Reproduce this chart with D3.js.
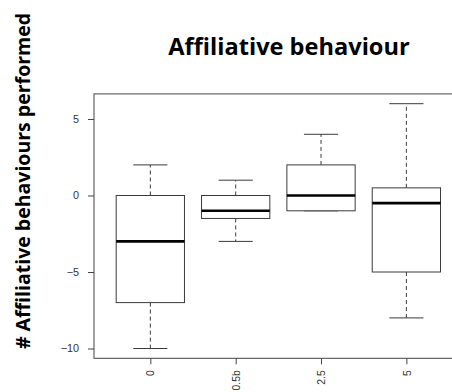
<!DOCTYPE html>
<html>
<head>
<meta charset="utf-8">
<script src="https://cdn.jsdelivr.net/npm/d3@7"></script>
<style>
  html, body { margin: 0; padding: 0; background: #fff; overflow: hidden; }
  svg { display: block; }
</style>
</head>
<body>
<script>
const categories = ["0", "0.5b", "2.5", "5"];
const whiskerLow = [-10, -3, -1, -8];
const q1 = [-7, -1.5, -1, -5];
const median = [-3, -1, 0, -0.5];
const q3 = [0, 0, 2, 0.5];
const whiskerHigh = [2, 1, 4, 6];
const yTicks = [-10, -5, 0, 5];
const titleText = "Affiliative behaviour";
const yTitleText = "# Affiliative behaviours performed";

const W = 452, H = 392;
const svg = d3.select("body").append("svg").attr("width", W).attr("height", H);

const n = categories.length;
const x = d3.scaleLinear().domain([0.5 - 0.04 * n, n + 0.5 + 0.04 * n]).range([94, 462.7]);
const yMin = d3.min(whiskerLow), yMax = d3.max(whiskerHigh);
const pad = (yMax - yMin) * 0.04;
const y = d3.scaleLinear().domain([yMin - pad, yMax + pad]).range([358.3, 93.9]);

const boxW = 0.8, capW = 0.4;
const data = categories.map((c, i) => ({
  c, i: i + 1, lo: whiskerLow[i], q1: q1[i], med: median[i], q3: q3[i], hi: whiskerHigh[i]
}));

const g = svg.append("g");
const strokeCol = "#3a3a3a";

data.forEach(d => {
  const cx = x(d.i);
  if (d.hi > d.q3) g.append("line").attr("x1", cx).attr("x2", cx).attr("y1", y(d.q3)).attr("y2", y(d.hi))
    .attr("stroke", strokeCol).attr("stroke-width", 1).attr("stroke-dasharray", "4,3");
  if (d.lo < d.q1) g.append("line").attr("x1", cx).attr("x2", cx).attr("y1", y(d.q1)).attr("y2", y(d.lo))
    .attr("stroke", strokeCol).attr("stroke-width", 1).attr("stroke-dasharray", "4,3");
  [d.hi, d.lo].forEach(v => {
    g.append("line").attr("x1", x(d.i - capW / 2)).attr("x2", x(d.i + capW / 2))
      .attr("y1", y(v)).attr("y2", y(v)).attr("stroke", strokeCol).attr("stroke-width", 1);
  });
  g.append("rect").attr("x", x(d.i - boxW / 2)).attr("width", x(d.i + boxW / 2) - x(d.i - boxW / 2))
    .attr("y", y(d.q3)).attr("height", y(d.q1) - y(d.q3))
    .attr("fill", "#fff").attr("stroke", strokeCol).attr("stroke-width", 1);
  g.append("line").attr("x1", x(d.i - boxW / 2)).attr("x2", x(d.i + boxW / 2))
    .attr("y1", y(d.med)).attr("y2", y(d.med)).attr("stroke", "#000").attr("stroke-width", 2.6);
});

svg.append("rect").attr("x", x.range()[0]).attr("y", y.range()[1])
  .attr("width", x.range()[1] - x.range()[0]).attr("height", y.range()[0] - y.range()[1])
  .attr("fill", "none").attr("stroke", "#444").attr("stroke-width", 1);

const yAxis = svg.append("g").attr("transform", `translate(${x.range()[0]},0)`)
  .call(d3.axisLeft(y).tickValues(yTicks).tickSize(6).tickPadding(9).tickFormat(d3.format("d")));
yAxis.select(".domain").remove();
yAxis.selectAll("line").attr("stroke", "#444");
yAxis.selectAll("text").attr("font-family", "'Liberation Sans', Arial, sans-serif")
  .attr("font-size", 10.8).attr("fill", "#333");

const xAxis = svg.append("g").attr("transform", `translate(0,${y.range()[0]})`)
  .call(d3.axisBottom(x).tickValues(data.map(d => d.i)).tickSize(6).tickFormat(i => categories[i - 1]));
xAxis.select(".domain").remove();
xAxis.selectAll("line").attr("stroke", "#444");
xAxis.selectAll("text")
  .attr("font-family", "'Liberation Sans', Arial, sans-serif")
  .attr("font-size", 10.4).attr("fill", "#333")
  .attr("transform", "rotate(-90)")
  .attr("text-anchor", "end")
  .attr("x", -12).attr("y", 0).attr("dy", "0.35em");

svg.append("text").attr("x", 289).attr("y", 55).attr("text-anchor", "middle")
  .attr("font-family", "'Open Sans', sans-serif").attr("font-weight", "bold").attr("font-size", 23.6)
  .attr("fill", "#000").text(titleText);

svg.append("text").attr("transform", "translate(30,181) rotate(-90)").attr("text-anchor", "middle")
  .attr("font-family", "'Open Sans', sans-serif").attr("font-weight", "bold").attr("font-size", 19.5)
  .attr("fill", "#000").text(yTitleText);
</script>
</body>
</html>
